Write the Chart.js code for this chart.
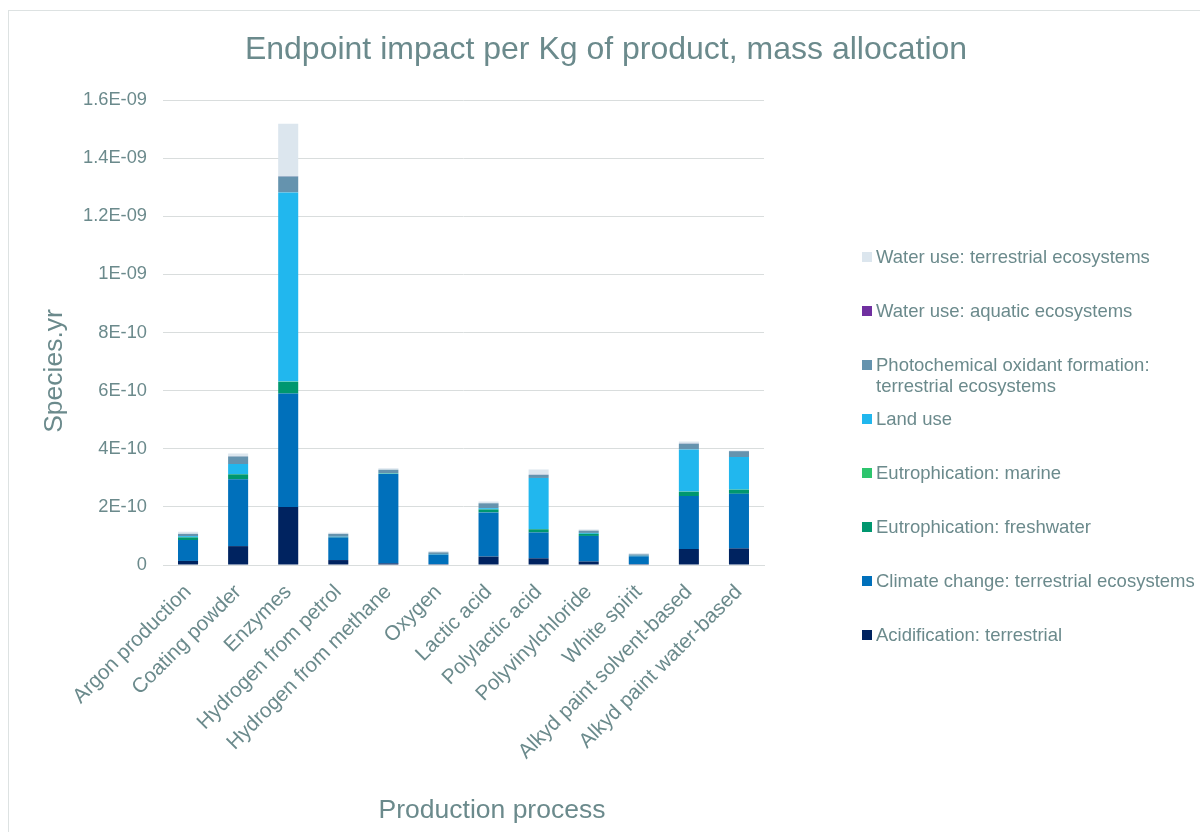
<!DOCTYPE html>
<html>
<head>
<meta charset="utf-8">
<title>Endpoint impact per Kg of product</title>
<script src="https://cdn.jsdelivr.net/npm/chart.js@4.4.0/dist/chart.umd.min.js"></script>
<style>
  html, body { margin: 0; padding: 0; background: #fff; overflow: hidden; }
  #frame { position: absolute; left: 8px; top: 10px; width: 1300px; height: 900px;
           border-left: 1.5px solid #dde2e2; border-top: 1.5px solid #dde2e2; }
  #theGraph { position: absolute; left: 0; top: 0; }
  #legend { position: absolute; left: 862px; top: 246px; margin: 0; padding: 0; list-style: none;
            font: 18.5px "Liberation Sans", Arial, sans-serif; color: #6b8a8c; }
  #legend li { display: flex; align-items: flex-start; height: 54px; line-height: 21px; }
  #legend .box { width: 10px; height: 10px; margin-top: 6px; margin-right: 4px; flex: none; }
  #legend .txt { width: 335px; }
</style>
</head>
<body>
<div id="frame"></div>
<canvas id="theGraph" width="1200" height="832"></canvas>
<ul id="legend"></ul>

<script>
var chartTitle = "Endpoint impact per Kg of product, mass allocation";
var xTitle = "Production process";
var yTitle = "Species.yr";

var processes = ["Argon production", "Coating powder", "Enzymes", "Hydrogen from petrol",
  "Hydrogen from methane", "Oxygen", "Lactic acid", "Polylactic acid", "Polyvinylchloride",
  "White spirit", "Alkyd paint solvent-based", "Alkyd paint water-based"];

var yTickLabels = ["0", "2E-10", "4E-10", "6E-10", "8E-10", "1E-09", "1.2E-09", "1.4E-09", "1.6E-09"];

// impact categories, bottom of the stack first
var acidification = [1.4e-11, 6.5e-11, 2.0e-10, 1.7e-11, 5.5e-12, 3e-12, 2.9e-11, 2.3e-11, 1.2e-11, 3e-12, 5.5e-11, 5.7e-11];
var climateChange = [7.2e-11, 2.30e-10, 3.90e-10, 7.8e-11, 3.08e-10, 3.3e-11, 1.52e-10, 8.9e-11, 8.8e-11, 2.7e-11, 1.82e-10, 1.88e-10];
var eutroFreshwater = [9e-12, 1.7e-11, 4.0e-11, 1e-12, 1e-12, 5e-13, 1.0e-11, 1.1e-11, 7e-12, 5e-13, 1.5e-11, 1.4e-11];
var eutroMarine = [3e-13, 5e-13, 1e-12, 2e-13, 2e-13, 1e-13, 4e-13, 5e-13, 3e-13, 1e-13, 6e-13, 6e-13];
var landUse = [4e-12, 3.5e-11, 6.51e-10, 1e-12, 1e-12, 1e-12, 4e-12, 1.76e-10, 3e-12, 1e-12, 1.45e-10, 1.12e-10];
var photochemical = [8e-12, 2.6e-11, 5.5e-11, 1.0e-11, 1.2e-11, 6e-12, 1.7e-11, 1.1e-11, 8e-12, 5e-12, 2.0e-11, 2.0e-11];
var waterAquatic = [1e-13, 2e-13, 5e-13, 1e-13, 1e-13, 1e-13, 1e-13, 2e-13, 1e-13, 1e-13, 2e-13, 2e-13];
var waterTerrestrial = [7e-12, 1.0e-11, 1.81e-10, 4e-12, 5e-12, 4e-12, 6e-12, 1.8e-11, 4e-12, 4e-12, 7e-12, 2e-12];

var textColor = "#6b8a8c";
var gridColor = "#d9dddd";
var fontFamily = '"Liberation Sans", Arial, sans-serif';

var datasets = [
  { label: "Acidification: terrestrial", data: acidification, backgroundColor: "#002360" },
  { label: "Climate change: terrestrial ecosystems", data: climateChange, backgroundColor: "#0070bb" },
  { label: "Eutrophication: freshwater", data: eutroFreshwater, backgroundColor: "#00976f" },
  { label: "Eutrophication: marine", data: eutroMarine, backgroundColor: "#2dc56e" },
  { label: "Land use", data: landUse, backgroundColor: "#21b7ee" },
  { label: "Photochemical oxidant formation: terrestrial ecosystems", data: photochemical, backgroundColor: "#6593ae" },
  { label: "Water use: aquatic ecosystems", data: waterAquatic, backgroundColor: "#7030a0" },
  { label: "Water use: terrestrial ecosystems", data: waterTerrestrial, backgroundColor: "#dce6ee" }
];
datasets.forEach(function (ds) {
  ds.barPercentage = 0.4;
  ds.categoryPercentage = 1.0;
});

// chart title + both axis titles
var captions = {
  id: "captions",
  afterDraw: function (chart) {
    var ctx = chart.ctx;
    ctx.save();
    ctx.fillStyle = textColor;
    ctx.textAlign = "center";
    ctx.textBaseline = "alphabetic";
    ctx.font = "32px " + fontFamily;
    ctx.fillText(chartTitle, 606, 59);
    ctx.font = "26.5px " + fontFamily;
    ctx.fillText(xTitle, 492, 818);
    ctx.translate(55, 371);
    ctx.rotate(-Math.PI / 2);
    ctx.textBaseline = "middle";
    ctx.fillText(yTitle, 0, 0);
    ctx.restore();
  }
};

var ctx = document.getElementById("theGraph").getContext("2d");
var chart = new Chart(ctx, {
  type: "bar",
  data: { labels: processes, datasets: datasets },
  plugins: [captions],
  options: {
    responsive: false,
    animation: false,
    layout: { padding: { top: 100, left: 20, right: 436, bottom: 0 } },
    plugins: {
      legend: { display: false },
      title: { display: false },
      tooltip: { enabled: false }
    },
    scales: {
      x: {
        stacked: true,
        grid: { display: false, drawTicks: false },
        border: { color: gridColor, width: 1 },
        ticks: {
          color: textColor,
          font: { family: fontFamily, size: 20.7 },
          minRotation: 45,
          maxRotation: 45,
          padding: 15,
          autoSkip: false
        },
        afterFit: function (scale) { scale.height = 267; }
      },
      y: {
        stacked: true,
        min: 0,
        max: 1.6e-9,
        grid: { color: gridColor, lineWidth: 1, drawTicks: false },
        border: { display: false },
        ticks: {
          stepSize: 2e-10,
          color: textColor,
          font: { family: fontFamily, size: 18.3 },
          padding: 16,
          callback: function (v) { return yTickLabels[Math.round(v / 2e-10)]; }
        },
        afterFit: function (scale) { scale.width = 143; }
      }
    }
  }
});

// legend on the right, top entry = top of the stack
var legendEl = document.getElementById("legend");
datasets.slice().reverse().forEach(function (ds) {
  var li = document.createElement("li");
  var box = document.createElement("span");
  box.className = "box";
  box.style.background = ds.backgroundColor;
  var txt = document.createElement("span");
  txt.className = "txt";
  txt.textContent = ds.label;
  li.appendChild(box);
  li.appendChild(txt);
  legendEl.appendChild(li);
});
</script>
</body>
</html>
